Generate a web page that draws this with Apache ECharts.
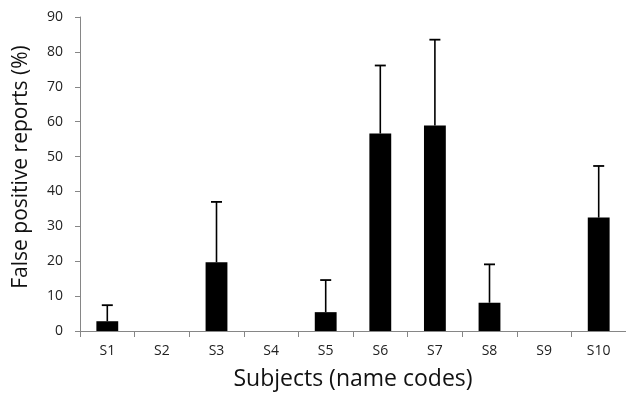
<!DOCTYPE html>
<html>
<head>
<meta charset="utf-8">
<script src="https://cdn.jsdelivr.net/npm/echarts@6/dist/echarts.min.js"></script>
<style>
html,body{margin:0;padding:0;background:#fff;}
#chart{width:626px;height:400px;}
</style>
</head>
<body>
<div id="chart"></div>
<script>
var categories = ['S1','S2','S3','S4','S5','S6','S7','S8','S9','S10'];
var values = [2.8, 0, 19.7, 0, 5.4, 56.6, 58.9, 8.1, 0, 32.5];
var errors = [4.6, 0, 17.3, 0, 9.2, 19.5, 24.6, 11.0, 0, 14.8];
var yTicks = {min: 0, max: 90, interval: 10};

var errData = [];
for (var i = 0; i < categories.length; i++) {
  if (errors[i] > 0) errData.push([i, values[i], values[i] + errors[i]]);
}

var font = '"Open Sans", sans-serif';
var chart = echarts.init(document.getElementById('chart'));
chart.setOption({
  animation: false,
  grid: {left: 80, right: 0, top: 17, bottom: 69, containLabel: false},
  xAxis: {
    type: 'category',
    data: categories,
    name: 'Subjects (name codes)',
    nameLocation: 'middle',
    nameGap: 37,
    nameTextStyle: {fontFamily: font, fontSize: 23, color: '#111'},
    axisLine: {lineStyle: {color: '#868686', width: 1}},
    axisTick: {show: true, alignWithLabel: false, length: 6, lineStyle: {color: '#868686'}},
    axisLabel: {fontFamily: font, fontSize: 14, color: '#222', margin: 13},
    splitLine: {show: false}
  },
  yAxis: {
    type: 'value',
    min: yTicks.min, max: yTicks.max, interval: yTicks.interval,
    name: 'False positive reports (%)',
    nameLocation: 'middle',
    nameGap: 48,
    nameTextStyle: {fontFamily: font, fontSize: 21, color: '#111', padding: [0, 0, 0, 14]},
    axisLine: {show: true, lineStyle: {color: '#868686', width: 1}},
    axisTick: {show: true, length: 5, lineStyle: {color: '#868686'}},
    axisLabel: {fontFamily: font, fontSize: 14, color: '#222', margin: 17},
    splitLine: {show: false}
  },
  series: [
    {
      type: 'bar',
      data: values,
      barWidth: '40%',
      itemStyle: {color: '#000'},
      z: 2
    },
    {
      type: 'custom',
      data: errData,
      z: 3,
      renderItem: function (params, api) {
        var x = api.value(0);
        var base = api.coord([x, api.value(1)]);
        var top = api.coord([x, api.value(2)]);
        var hw = 5.5;
        return {
          type: 'group',
          children: [
            {type: 'line', shape: {x1: base[0], y1: base[1], x2: top[0], y2: top[1]}, style: {stroke: '#000', lineWidth: 1.6}},
            {type: 'line', shape: {x1: top[0] - hw, y1: top[1], x2: top[0] + hw, y2: top[1]}, style: {stroke: '#000', lineWidth: 1.8}}
          ]
        };
      }
    }
  ]
});
</script>
</body>
</html>
